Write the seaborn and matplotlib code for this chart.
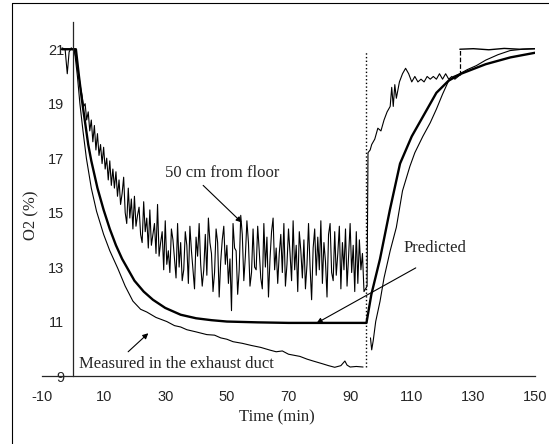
import numpy as np
import pandas as pd
import matplotlib.pyplot as plt
import seaborn as sns
from matplotlib.lines import Line2D

# ---- data ----
# predicted O2 (thick line)
pred_t = [-3.5, 1, 2, 3, 4, 5, 6, 8, 10, 12, 14, 16, 18, 20, 23, 26, 30, 35, 40, 45, 50, 60, 70, 95.3,
          96.9, 99.7, 102.9, 106.2, 110, 113, 118, 122, 126, 134, 142, 150]
pred_v = [21.0, 21.0, 20.0, 19.1, 18.3, 17.5, 16.9, 15.9, 15.1, 14.4, 13.8, 13.3, 12.9, 12.5, 12.1, 11.8,
          11.5, 11.25, 11.12, 11.05, 11.0, 10.97, 10.95, 10.95,
          12.0, 13.3, 15.1, 16.8, 17.8, 18.4, 19.4, 19.85, 20.1, 20.45, 20.7, 20.87]

# measured in the exhaust duct (thin line), before the switch
duct_t = [-3.5, 0.5, 1.5, 2.3, 3.3, 4.4, 6, 7.7, 10, 12, 14.6, 17, 19.5, 22, 24, 27, 30.5, 33, 35, 37,
          40, 43.5, 46, 48, 50, 52, 55, 58, 61, 64, 66, 68, 70, 73.7, 76, 78, 81, 83, 85, 87, 88.3,
          89, 90, 92, 94.2]
duct_v = [21.0, 21.0, 20.0, 19.0, 18.0, 17.0, 15.9, 15.05, 14.2, 13.6, 12.95, 12.3, 11.75, 11.45, 11.35,
          11.15, 11.0, 10.85, 10.8, 10.7, 10.62, 10.52, 10.5, 10.4, 10.35, 10.26, 10.2, 10.12, 10.05,
          9.95, 9.89, 9.92, 9.8, 9.72, 9.62, 9.55, 9.45, 9.38, 9.32, 9.38, 9.55, 9.4, 9.33, 9.35, 9.33]
# exhaust duct recovery
duct2_t = [96.6, 97, 97.5, 98.3, 99.7, 101, 103, 105, 107, 109.4, 111, 113.6, 116, 118, 120, 121.8, 123.5,
           125.6, 128, 131, 134, 138, 141.9, 146, 150]
duct2_v = [10.4, 9.96, 10.3, 11.0, 11.74, 12.6, 13.6, 14.46, 15.8, 16.7, 17.2, 17.8, 18.3, 18.8, 19.35, 19.8,
           20.0, 20.1, 20.25, 20.4, 20.6, 20.8, 20.95, 21.0, 21.02]
# dotted vertical at the switch
switch_t = [95.1, 95.1]
switch_v = [9.33, 20.95]

# 50 cm from floor, sampled every 0.5 min from 0 to 94.5
floor_start = [-3.5, -2.5, -1.8, -1.2, -0.5]
floor_start_v = [21.05, 21.0, 20.1, 20.9, 21.05]
floor_v = [
    21.0, 20.9, 20.7, 20.3, 20.0, 19.6, 19.3, 18.9, 19.0, 18.4,
    18.7, 18.0, 18.4, 17.6, 18.2, 17.3, 17.9, 17.1, 17.5, 16.8,
    17.4, 16.6, 17.0, 16.2, 16.9, 16.0, 16.6, 15.9, 16.5, 15.6,
    16.2, 15.3, 15.7, 16.3, 15.0, 14.6, 15.9, 14.8, 15.5, 14.4,
    15.6, 14.5, 14.9, 15.2, 14.2, 13.9, 15.4, 14.3, 14.8, 13.7,
    15.1, 13.8, 14.2, 14.6, 13.5, 15.3, 13.4, 13.9, 14.3, 12.9,
    14.7, 13.1, 13.6, 12.8, 14.4, 14.0, 13.3, 12.6, 14.6, 13.0,
    13.9, 12.5, 12.9, 14.3, 13.8, 12.4, 14.5, 13.6, 12.9, 12.2,
    14.1, 13.4, 14.6, 13.1, 12.3, 12.9, 14.2, 12.7, 14.8, 13.9,
    13.5, 12.1, 12.8, 14.4, 13.9, 11.9, 13.2, 14.0, 14.5, 13.1,
    13.8, 12.4, 13.3, 11.4, 14.6, 13.7, 13.6, 12.0, 12.9, 14.9,
    14.2, 12.5, 13.4, 14.7, 13.9, 12.3, 12.8, 14.4, 13.0, 12.9,
    14.5, 13.6, 12.6, 12.2, 14.6, 13.0, 14.1, 11.9, 13.3, 14.3,
    14.8, 12.9, 13.7, 12.4, 13.5, 14.2, 12.8, 14.6, 12.3, 13.1,
    14.4, 13.5, 12.5, 14.7, 12.9, 13.8, 12.1, 14.3, 13.6, 12.6,
    14.0, 12.2, 13.1, 14.6, 13.0, 11.8, 13.7, 14.4, 12.7, 14.1,
    12.9, 14.7, 12.4, 13.9, 13.2, 11.9, 14.2, 14.6, 12.8, 12.5,
    14.3, 12.7, 13.5, 14.5, 12.2, 13.9, 12.9, 14.4, 12.3, 13.4,
    14.6, 12.8, 13.8, 12.1, 14.3, 12.4, 14.0, 12.9, 13.5, 12.1,
]
floor_rec_t = [95.5, 95.8, 96.5, 97, 98, 99, 100, 101, 102, 103, 103.5, 104, 104.5, 105, 106, 107, 108,
               109, 110, 111, 112, 113, 114, 115, 116, 117, 118, 119, 120, 121, 122, 123, 124, 125.6]
floor_rec_v = [12.3, 17.2, 17.3, 17.5, 17.7, 18.1, 18.0, 18.4, 18.7, 18.9, 19.6, 18.9, 19.7, 19.2, 19.8,
               20.1, 20.3, 20.1, 19.8, 20.0, 19.8, 19.9, 19.8, 20.0, 19.9, 20.0, 19.9, 20.1, 19.9, 20.1,
               19.9, 20.0, 19.9, 20.05]
jump_t = [125.6, 125.6]
jump_v = [20.05, 21.0]
floor_end_t = [125.6, 130, 135, 140, 145, 150]
floor_end_v = [21.0, 21.02, 20.98, 21.03, 21.0, 21.02]

xticks = [-10, 10, 30, 50, 70, 90, 110, 130, 150]
yticks = [9, 11, 13, 15, 17, 19, 21]

floor_t = np.arange(0, 95, 0.5)
floor = pd.DataFrame({
    "t": floor_start + list(floor_t) + floor_rec_t,
    "v": floor_start_v + floor_v + floor_rec_v,
})

sns.set_style("white")
plt.rcParams["font.family"] = ["Liberation Sans", "DejaVu Sans"]
plt.rcParams["axes.unicode_minus"] = False

fig = plt.figure(figsize=(5.49, 4.44), dpi=100)
ax = fig.add_axes([42 / 549, 68 / 444, 493 / 549, 354 / 444])

kw = dict(ax=ax, color="black", estimator=None, sort=False, legend=False)
sns.lineplot(data=floor, x="t", y="v", linewidth=0.8, **kw)
sns.lineplot(x=jump_t, y=jump_v, linewidth=0.9, linestyle="--", **kw)
sns.lineplot(x=floor_end_t, y=floor_end_v, linewidth=1.0, **kw)
sns.lineplot(x=duct_t, y=duct_v, linewidth=0.8, **kw)
sns.lineplot(x=duct2_t, y=duct2_v, linewidth=0.8, **kw)
sns.lineplot(x=switch_t, y=switch_v, linewidth=1.0, linestyle=":", **kw)
sns.lineplot(x=pred_t, y=pred_v, linewidth=1.7, **kw)

ax.set_xlim(-10, 150)
ax.set_ylim(9, 22)
ax.set_xticks(xticks)
ax.set_yticks(yticks)
ax.spines["top"].set_visible(False)
ax.spines["right"].set_visible(False)
ax.spines["left"].set_position(("data", 0))
for s in ["left", "bottom"]:
    ax.spines[s].set_linewidth(0.9)
ax.tick_params(axis="x", direction="in", length=5, width=0.9, pad=10, labelsize=10.5)
ax.tick_params(axis="y", direction="out", length=5, width=0.9, pad=1, labelsize=10.5)

ax.set_xlabel("Time (min)", family="Liberation Serif", fontsize=12)
ax.xaxis.set_label_coords(0.477, -0.095)
ax.set_ylabel("O2 (%)", family="Liberation Serif", fontsize=12)
ax.yaxis.set_label_coords(-0.005, 0.455)

serif = dict(family="Liberation Serif", fontsize=12)
arrow = dict(arrowstyle="-|>", color="black", lw=0.8, mutation_scale=8, shrinkA=0, shrinkB=0)
ax.text(48.4, 16.45, "50 cm from floor", ha="center", va="center", **serif)
ax.annotate("", xy=(54.8, 14.64), xytext=(42.3, 16.0), arrowprops=arrow)
ax.text(117.4, 13.7, "Predicted", ha="center", va="center", **serif)
ax.annotate("", xy=(79.1, 10.94), xytext=(111.3, 12.97), arrowprops=arrow)
ax.text(1.95, 9.44, "Measured in the exhaust duct", ha="left", va="center", **serif)
ax.annotate("", xy=(24.5, 10.57), xytext=(17.96, 9.89), arrowprops=arrow)

# outer frame of the scanned figure
fig.add_artist(Line2D([12 / 549, 12 / 549], [0, 1 - 3 / 444], color="black", lw=0.8))
fig.add_artist(Line2D([12 / 549, 1], [1 - 3 / 444, 1 - 3 / 444], color="black", lw=0.8))

fig.savefig("out.png", dpi=100)
